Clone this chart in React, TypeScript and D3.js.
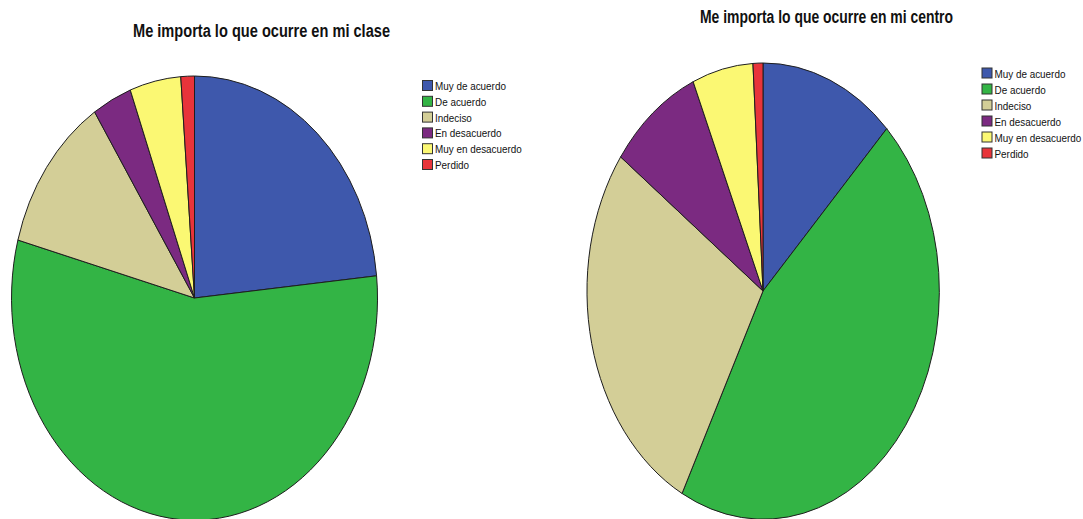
import React from 'react';
import * as d3 from 'd3';

const categories = ['Muy de acuerdo', 'De acuerdo', 'Indeciso', 'En desacuerdo', 'Muy en desacuerdo', 'Perdido'];
const colors = ['#3e58ac', '#33b445', '#d3ce97', '#7b2a81', '#fbf873', '#e8343a'];

// percentages
const claseValues = [23.4, 55.8, 11.6, 3.5, 4.5, 1.2];
const centroValues = [12.4, 45.2, 27.4, 8.5, 5.6, 0.9];

const titles = ['Me importa lo que ocurre en mi clase', 'Me importa lo que ocurre en mi centro'];

const W = 1083;
const H = 519;

type PieProps = {
  values: number[];
  cx: number;
  cy: number;
  rx: number;
  ry: number;
};

function EllipsePie({ values, cx, cy, rx, ry }: PieProps) {
  const pie = d3.pie<number>().sort(null).value(d => d);
  const arc = d3.arc<d3.PieArcDatum<number>>().innerRadius(0).outerRadius(1);
  const arcs = pie(values);
  return (
    <g transform={`translate(${cx},${cy}) scale(${rx},${ry})`}>
      {arcs.map((a, i) => (
        <path
          key={i}
          d={arc(a) || ''}
          fill={colors[i]}
          stroke="#1e1e1e"
          strokeWidth={1}
          vectorEffect="non-scaling-stroke"
        />
      ))}
    </g>
  );
}

function Legend({ x, y, step }: { x: number; y: number; step: number }) {
  return (
    <g>
      {categories.map((c, i) => (
        <g key={c} transform={`translate(${x},${y + i * step})`}>
          <rect x={0.5} y={0.5} width={10} height={10} fill={colors[i]} stroke="#333" strokeWidth={1} />
          <text
            transform="translate(13,10) scale(0.9,1)"
            fontFamily="'Liberation Sans', Arial, sans-serif"
            fontSize={11}
            fill="#111"
          >
            {c}
          </text>
        </g>
      ))}
    </g>
  );
}

export default function App() {
  return (
    <svg
      width={W}
      height={H}
      viewBox={`0 0 ${W} ${H}`}
      style={{ position: 'absolute', left: 0, top: 0, background: '#fff', display: 'block' }}
    >
      <rect width={W} height={H} fill="#fff" />

      <text
        x={261.5}
        y={37}
        textAnchor="middle"
        fontFamily="'Liberation Sans', Arial, sans-serif"
        fontWeight="bold"
        fontSize={18}
        textLength={257}
        lengthAdjust="spacingAndGlyphs"
        fill="#111"
      >
        {titles[0]}
      </text>
      <text
        x={826.5}
        y={23}
        textAnchor="middle"
        fontFamily="'Liberation Sans', Arial, sans-serif"
        fontWeight="bold"
        fontSize={18}
        textLength={253}
        lengthAdjust="spacingAndGlyphs"
        fill="#111"
      >
        {titles[1]}
      </text>

      <EllipsePie values={claseValues} cx={194.5} cy={298} rx={183} ry={222} />
      <EllipsePie values={centroValues} cx={763} cy={291} rx={176} ry={228} />

      <Legend x={422} y={80} step={15.8} />
      <Legend x={981.5} y={67.5} step={16} />
    </svg>
  );
}
